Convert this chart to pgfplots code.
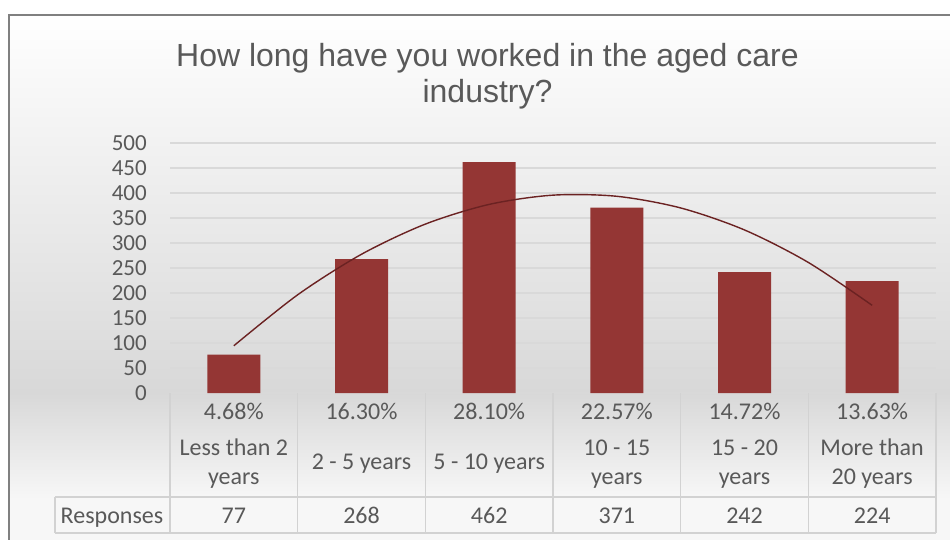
\documentclass[border=0pt]{standalone}
\usepackage{fontspec}
\setmainfont{Carlito}
\newfontfamily\titlefont{Liberation Sans}
\usepackage{pgfplots}
\pgfplotsset{compat=1.18}
\definecolor{BarRed}{HTML}{943634}
\definecolor{TrendRed}{HTML}{6B2222}
\definecolor{TxtGray}{HTML}{595959}
\definecolor{GridGray}{HTML}{D9D9D9}
\definecolor{BgGray}{HTML}{D8D8D8}
\definecolor{FrameGray}{HTML}{808080}
\definecolor{CellLine}{HTML}{D2D2D2}
\newcommand{\tabfont}{\fontsize{24}{29}\selectfont}
\newcommand{\tickfont}{\fontsize{23}{28}\selectfont}
\tikzset{cell/.style={font=\tabfont,text=TxtGray,anchor=base}}

\begin{document}
\begin{tikzpicture}[x=1pt,y=1pt]
\useasboundingbox (0,0) rectangle (950,539);
% chart area background
\shade[top color=white,bottom color=BgGray] (9,146) rectangle (952,524);
\shade[top color=BgGray,bottom color=white!97!black] (9,39) rectangle (952,146);
\fill[white!97!black] (9,-2) rectangle (952,39);
\draw[FrameGray,line width=1.5pt] (9,-5) -- (9,524) -- (960,524);

\node[font=\titlefont\fontsize{32}{36}\selectfont,text=TxtGray,anchor=base] at (487.5,472) {How long have you worked in the aged care};
\node[font=\titlefont\fontsize{32}{36}\selectfont,text=TxtGray,anchor=base] at (487.5,436) {industry?};

\begin{axis}[
    at={(170pt,146pt)}, anchor=south west,
    scale only axis,
    width=766pt, height=250pt,
    xmin=0.5, xmax=6.5,
    ymin=0, ymax=500,
    ytick={0,50,...,500},
    xtick={1,2,3,4,5,6},
    xticklabels={Less than 2\\years,2 - 5 years,5 - 10 years,10 - 15\\years,15 - 20\\years,More than\\20 years},
    x tick label style={align=center,anchor=center,yshift=-71pt,font=\tabfont,text=TxtGray},
    y tick label style={anchor=east,inner sep=0pt,xshift=-23pt,font=\tickfont,text=TxtGray},
    /pgf/number format/assume math mode=true,
    ymajorgrids=true,
    grid style={GridGray,line width=1.5pt},
    axis line style={draw=none},
    major tick length=0pt,
    clip=false,
]
\addplot[ybar,bar width=53pt,fill=BarRed,draw=none] coordinates {
    (1,77) (2,268) (3,462) (4,371) (5,242) (6,224)
};
% polynomial (order 2) trendline as drawn
\addplot[smooth,TrendRed,line width=1.4pt] coordinates {
    (1,94.5) (1.5,196.4) (2,277.5) (2.5,337.8) (3,377.2) (3.5,395.7)
    (4,393.4) (4.5,370.1) (5,326.1) (5.5,261.1) (6,175.3)
};
% percentage row
\node[cell,yshift=-26pt] at (axis cs:1,0) {4.68\%};
\node[cell,yshift=-26pt] at (axis cs:2,0) {16.30\%};
\node[cell,yshift=-26pt] at (axis cs:3,0) {28.10\%};
\node[cell,yshift=-26pt] at (axis cs:4,0) {22.57\%};
\node[cell,yshift=-26pt] at (axis cs:5,0) {14.72\%};
\node[cell,yshift=-26pt] at (axis cs:6,0) {13.63\%};
% responses row
\node[cell,yshift=-130pt] at (axis cs:1,0) {77};
\node[cell,yshift=-130pt] at (axis cs:2,0) {268};
\node[cell,yshift=-130pt] at (axis cs:3,0) {462};
\node[cell,yshift=-130pt] at (axis cs:4,0) {371};
\node[cell,yshift=-130pt] at (axis cs:5,0) {242};
\node[cell,yshift=-130pt] at (axis cs:6,0) {224};
\end{axis}

% data table grid
\draw[CellLine,line width=1.5pt]
    (170,146) -- (170,6) (297.7,146) -- (297.7,6) (425.3,146) -- (425.3,6)
    (553,146) -- (553,6) (680.7,146) -- (680.7,6) (808.3,146) -- (808.3,6)
    (936,146) -- (936,6)
    (55,42) -- (936,42) (55,6) -- (936,6) (55,42) -- (55,6);
\node[cell] at (112,16) {Responses};
\end{tikzpicture}
\end{document}
